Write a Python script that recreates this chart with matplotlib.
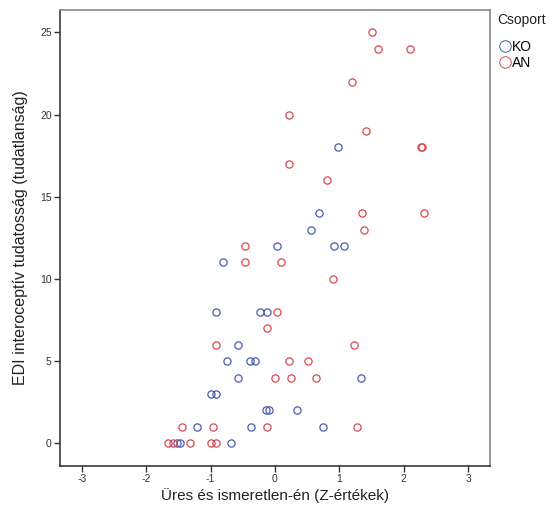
import matplotlib.pyplot as plt

plt.rcParams['font.family'] = ['Liberation Sans', 'DejaVu Sans']
plt.rcParams['axes.unicode_minus'] = False

# KO group (controls)
ko_x = [0.98, 0.68, 0.56, 0.03, 0.92, 1.07, -0.81, -0.91, -0.24, -0.13,
        -0.57, -0.75, -0.39, -0.31, -0.58, 1.33, -1.00, -0.92, -0.14, -0.09,
        0.34, -1.21, -0.38, 0.74, -1.53, -1.48, -0.68]
ko_y = [18, 14, 13, 12, 12, 12, 11, 8, 8, 8,
        6, 5, 5, 5, 4, 4, 3, 3, 2, 2,
        2, 1, 1, 1, 0, 0, 0]

# AN group (anorexia)
an_x = [1.51, 1.60, 2.09, 1.20, 0.21, 1.42, 2.27, 2.28, 0.22, 0.81,
        1.35, 2.31, 1.38, -0.46, -0.46, 0.09, 0.90, 0.03, -0.13, -0.92,
        1.23, 0.21, 0.51, 0.00, 0.25, 0.64, -1.45, -0.96, -0.13, 1.28,
        -1.67, -1.58, -1.32, -1.00, -0.91]
an_y = [25, 24, 24, 22, 20, 19, 18, 18, 17, 16,
        14, 14, 13, 12, 11, 11, 10, 8, 7, 6,
        6, 5, 5, 4, 4, 4, 1, 1, 1, 1,
        0, 0, 0, 0, 0]

x_ticks = [-3, -2, -1, 0, 1, 2, 3]
y_ticks = [0, 5, 10, 15, 20, 25]

blue = '#4a5cb0'
red = '#d44a50'

fig = plt.figure(figsize=(5.57, 5.17), dpi=100)
ax = fig.add_axes([60 / 557, 51 / 517, 430 / 557, 456 / 517])

ax.plot(ko_x, ko_y, 'o', ms=5.2, mfc='none', mec=blue, mew=0.9, label='KO')
ax.plot(an_x, an_y, 'o', ms=5.2, mfc='none', mec=red, mew=0.9, label='AN')

ax.set_xlim(-3.34, 3.34)
ax.set_ylim(-1.38, 26.36)
ax.set_xticks(x_ticks)
ax.set_yticks(y_ticks)
ax.tick_params(axis='both', direction='out', length=4, width=1, color='#333333',
               labelsize=7.5, labelcolor='#333333', pad=2)

for side in ['left', 'bottom']:
    ax.spines[side].set_color('#3a3a3a')
    ax.spines[side].set_linewidth(1.2)
for side in ['top', 'right']:
    ax.spines[side].set_color('#888888')
    ax.spines[side].set_linewidth(1.2)

ax.set_xlabel('Üres és ismeretlen-én (Z-értékek)', fontsize=11, color='#222222', labelpad=3)
ax.set_ylabel('EDI interoceptív tudatosság (tudatlanság)', fontsize=11.5, color='#222222', labelpad=9)

# group legend to the right of the plot
fig.text(497 / 557, 1 - 20 / 517, 'Csoport', fontsize=10, color='#222222', va='center', ha='left')
leg = fig.legend(loc='upper left', bbox_to_anchor=(500 / 557, 1 - 40 / 517),
                 frameon=False, fontsize=10, markerscale=1.6,
                 handlelength=0.7, handletextpad=0.15, borderaxespad=0,
                 labelspacing=0.15, borderpad=0)
for h in leg.legend_handles:
    h.set_markeredgewidth(0.7)

fig.savefig('out.png', dpi=100)
